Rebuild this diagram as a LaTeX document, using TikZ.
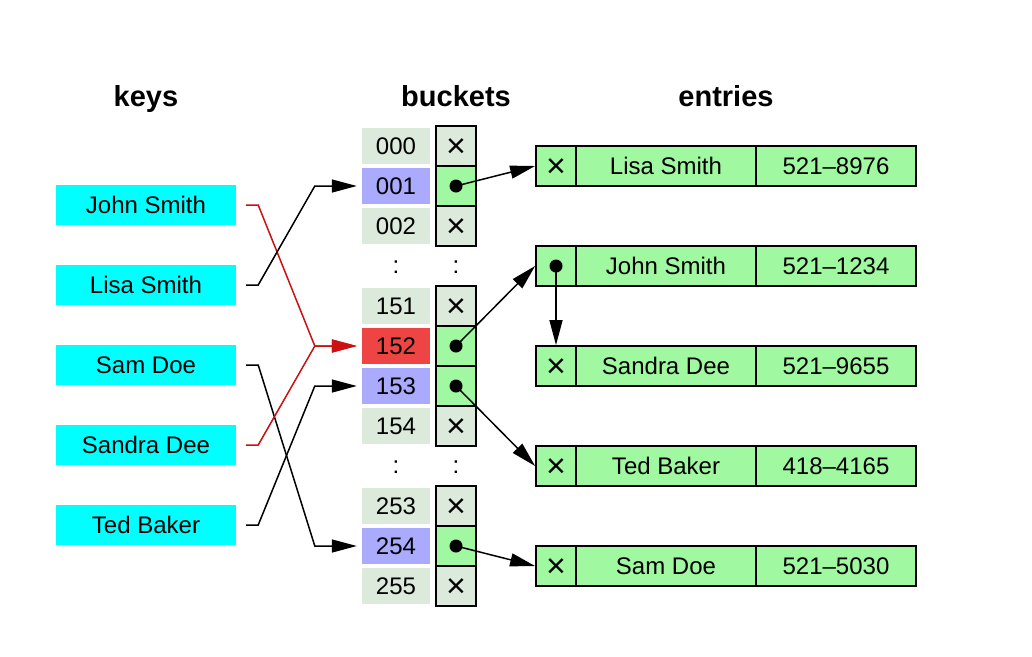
\documentclass[tikz,border=0pt]{standalone}
\usepackage{fontspec}
\setmainfont{Liberation Sans}
\usetikzlibrary{arrows.meta}
\definecolor{keycyan}{HTML}{00FFFF}
\definecolor{idxgray}{HTML}{DCEADC}
\definecolor{hitblue}{HTML}{AAAAFF}
\definecolor{hitred}{HTML}{EE4444}
\definecolor{entgreen}{HTML}{A0F8A0}
\definecolor{redline}{HTML}{CC1111}

\begin{document}
\begin{tikzpicture}[x=1pt,y=-1pt,
  every node/.style={font=\fontsize{24}{28}\selectfont,inner sep=0pt},
  title/.style={font=\fontsize{29}{34}\selectfont\bfseries,anchor=base},
  cross/.style={font=\fontsize{34}{38}\selectfont},
  keybox/.style={fill=keycyan,minimum width=180pt,minimum height=40pt},
  idx/.style={fill=idxgray,minimum width=68pt,minimum height=36pt},
  slot/.style={draw,line width=1.8pt,fill=idxgray,minimum width=40pt,minimum height=40pt},
  entcell/.style={draw,line width=1.8pt,fill=entgreen,minimum height=40pt},
  link/.style={line width=1.5pt,-{Triangle[length=25pt,width=13pt]}}]
\useasboundingbox (0,0) rectangle (1032,656);
\node[title] (tkeys) at (146,106) {keys};
\node[title] (tbuckets) at (456,106) {buckets};
\node[title] (tentries) at (726,106) {entries};
% keys
\foreach \k/\t/\y in {john/John Smith/205,lisa/Lisa Smith/285,sam/Sam Doe/365,sandra/Sandra Dee/445,ted/Ted Baker/525}
  \node[keybox] (k\k) at (146,\y) {\t};
% buckets
\foreach \n/\y/\c in {000/146/idxgray,001/186/hitblue,002/226/idxgray,151/306/idxgray,152/346/hitred,153/386/hitblue,154/426/idxgray,253/506/idxgray,254/546/hitblue,255/586/idxgray}
  \node[idx,fill=\c] (b\n) at (396,\y) {\n};
\foreach \n/\y in {000/146,002/226,151/306,154/426,253/506,255/586}{
  \node[slot] (p\n) at (456,\y) {};
  \node[cross,yshift=-2pt] (c\n) at (p\n) {×};}
\foreach \n/\y in {001/186,152/346,153/386,254/546}{
  \node[slot,fill=entgreen] (p\n) at (456,\y) {};
  \fill (p\n.center) circle[radius=6.5pt];}
\node (gapa) at (396,267) {:}; \node (gapb) at (456,267) {:};
\node (gapc) at (396,467) {:}; \node (gapd) at (456,467) {:};
% entries
\foreach \i/\y/\nm/\tel in {1/166/Lisa Smith/521--8976,2/266/John Smith/521--1234,3/366/Sandra Dee/521--9655,4/466/Ted Baker/418--4165,5/566/Sam Doe/521--5030}{
  \node[entcell,minimum width=40pt] (x\i) at (556,\y) {};
  \node[entcell,minimum width=180pt] (n\i) at (666,\y) {\nm};
  \node[entcell,minimum width=160pt] (t\i) at (836,\y) {\tel};}
\foreach \i in {1,3,4,5} \node[cross,yshift=-2pt] (m\i) at (x\i) {×};
\fill (x2.center) circle[radius=6.5pt];
% hashing
\draw[link,redline] ([xshift=10pt]kjohn.east) -- ++(12,0) -- ([xshift=-47pt]b152.west) -- ([xshift=-5pt]b152.west);
\draw[link] ([xshift=10pt]klisa.east) -- ++(12,0) -- ([xshift=-47pt]b001.west) -- ([xshift=-5pt]b001.west);
\draw[link] ([xshift=10pt]ksam.east) -- ++(12,0) -- ([xshift=-47pt]b254.west) -- ([xshift=-5pt]b254.west);
\draw[link,redline] ([xshift=10pt]ksandra.east) -- ++(12,0) -- ([xshift=-47pt]b152.west) -- ([xshift=-5pt]b152.west);
\draw[link] ([xshift=10pt]kted.east) -- ++(12,0) -- ([xshift=-47pt]b153.west) -- ([xshift=-5pt]b153.west);
% pointers
\draw[link] (p001.center) -- (x1.west);
\draw[link] (p152.center) -- (x2.west);
\draw[link] (p153.center) -- (x4.west);
\draw[link] (p254.center) -- (x5.west);
\draw[link] (x2.center) -- (x3.north);
\end{tikzpicture}
\end{document}
